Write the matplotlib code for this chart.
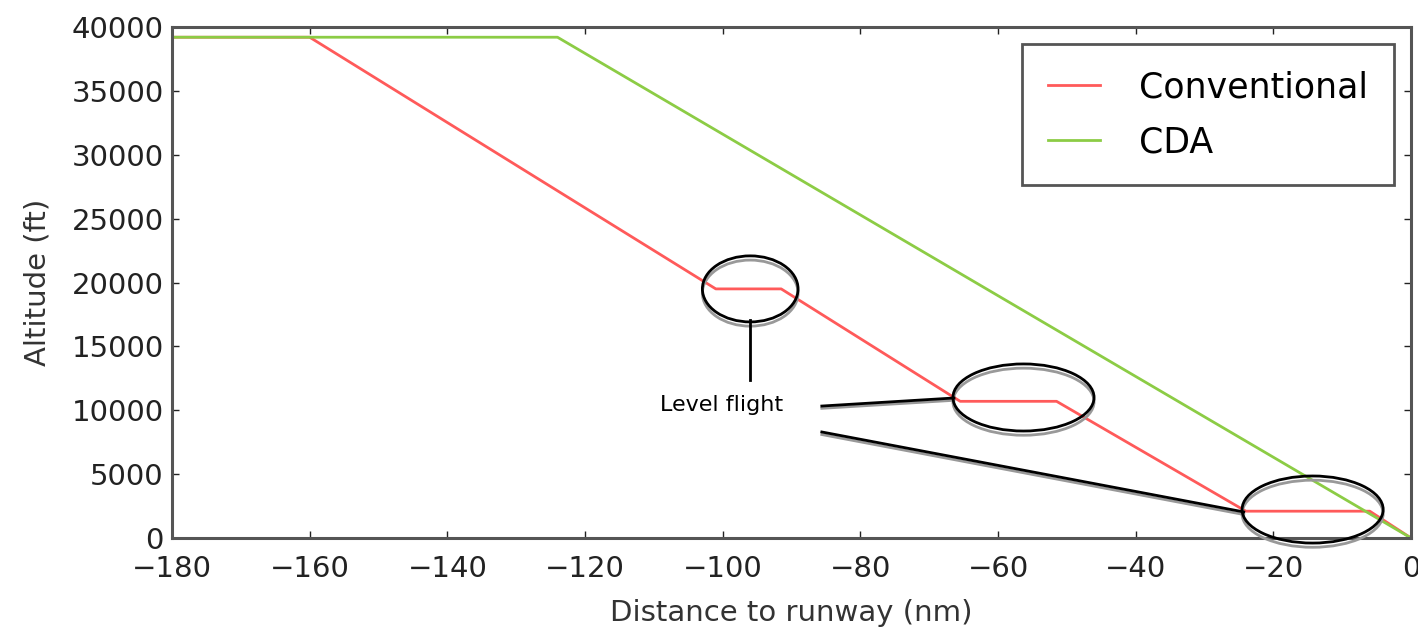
import matplotlib
matplotlib.use("Agg")
import matplotlib.pyplot as plt
from matplotlib.patches import Ellipse

# profile data (distance in nm, altitude in ft)
conv_x = [-180, -160, -101, -91.5, -65.5, -51.5, -24, -6, 0]
conv_y = [39200, 39200, 19500, 19500, 10700, 10700, 2100, 2100, 0]
cda_x = [-180, -124, 0]
cda_y = [39200, 39200, 0]

x_ticks = [-180, -160, -140, -120, -100, -80, -60, -40, -20, 0]
y_ticks = [0, 5000, 10000, 15000, 20000, 25000, 30000, 35000, 40000]

# level flight markers: (center x, center y, width, height)
ell_cx = [-96.0, -56.3, -14.3]
ell_cy = [19500, 11000, 2230]
ell_w = [13.9, 20.5, 20.5]
ell_h = [5170, 5250, 5250]

fig = plt.figure(figsize=(14.18, 6.34), dpi=100)
ax = fig.add_axes([0.1213, 0.1514, 0.8738, 0.806])

ax.plot(conv_x, conv_y, color="#ff5a5a", lw=2.0, label="Conventional")
ax.plot(cda_x, cda_y, color="#8ccc45", lw=2.0, label="CDA")

ax.set_xlim(-180, 0)
ax.set_ylim(0, 40000)
ax.set_xticks(x_ticks)
ax.set_yticks(y_ticks)
ax.tick_params(direction="in", length=5, width=1, top=True, right=True,
               labelsize=21, colors="#222222")
ax.tick_params(axis="x", pad=12)
ax.tick_params(axis="y", pad=6)
for s in ax.spines.values():
    s.set_linewidth(2.2)
    s.set_color("#555555")

ax.set_xlabel("Distance to runway (nm)", fontsize=21, color="#333333", labelpad=12)
ax.set_ylabel("Altitude (ft)", fontsize=21, color="#333333", labelpad=14)

leg = ax.legend(loc="upper right", fontsize=25, handlelength=1.5,
                handletextpad=1.1, borderpad=0.75, labelspacing=0.6,
                fancybox=False, framealpha=1)
leg.get_frame().set_edgecolor("#555555")
leg.get_frame().set_linewidth(2)

# ellipses with a grey shadow
for cx, cy, w, h in zip(ell_cx, ell_cy, ell_w, ell_h):
    ax.add_patch(Ellipse((cx, cy - 330), w, h, fill=False, ec="#999999",
                         lw=2, clip_on=False, zorder=4))
    ax.add_patch(Ellipse((cx, cy), w, h, fill=False, ec="black",
                         lw=2, clip_on=False, zorder=5))

# pointer lines
ax.plot([-96.0, -96.0], [17100, 12400], color="black", lw=2, zorder=5)
ax.plot([-85.6, -66.4], [10150, 10780], color="#999999", lw=2, zorder=4)
ax.plot([-85.6, -66.4], [10330, 10960], color="black", lw=2, zorder=5)
ax.plot([-85.6, -24.3], [8100, 1840], color="#999999", lw=2, zorder=4)
ax.plot([-85.6, -24.3], [8300, 2040], color="black", lw=2, zorder=5)

ax.text(-100.1, 10400, "Level flight", fontsize=16, ha="center", va="center")

fig.savefig("out.png", dpi=100)
